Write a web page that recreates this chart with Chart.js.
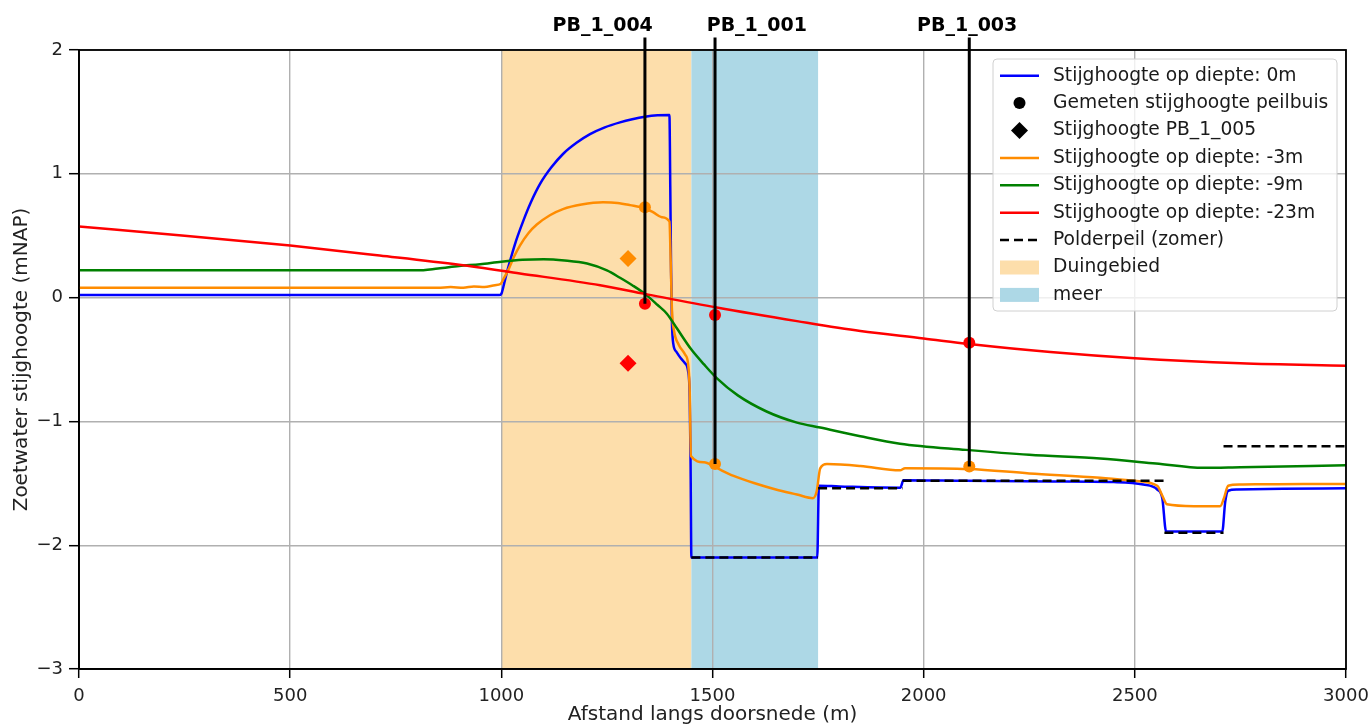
<!DOCTYPE html>
<html lang="nl">
<head>
<meta charset="utf-8">
<title>Stijghoogte langs doorsnede</title>
<script src="https://cdn.jsdelivr.net/npm/chart.js@4.4.1/dist/chart.umd.min.js"></script>
<style>
  html, body { margin: 0; padding: 0; background: #fff; }
</style>
</head>
<body>
<canvas id="doorsnede" width="1372" height="725"></canvas>
<script>
// Stijghoogte op diepte: 0m
const x0m = [0, 995, 1000, 1005, 1010, 1021, 1035, 1052, 1070, 1092, 1118, 1146, 1178, 1210, 1245, 1281, 1310, 1340, 1370, 1398,
             1400, 1402, 1404, 1407, 1415, 1425, 1435, 1442, 1446, 1448, 1450, 1600, 1748, 1752, 1800, 1945, 1952, 2100, 2300, 2450,
             2520, 2553, 2565, 2574, 2640, 2707, 2714, 2721, 2742, 2850, 3000];
const y0m = [0.02, 0.02, 0.03, 0.09, 0.16, 0.30, 0.46, 0.62, 0.77, 0.92, 1.05, 1.16, 1.25, 1.32, 1.375, 1.415, 1.44, 1.46, 1.472, 1.475,
             0.9, 0.2, -0.2, -0.37, -0.44, -0.49, -0.53, -0.59, -0.8, -1.3, -2.1, -2.1, -2.1, -1.52, -1.525, -1.535, -1.475, -1.48, -1.485, -1.49,
             -1.51, -1.55, -1.62, -1.89, -1.89, -1.89, -1.65, -1.56, -1.55, -1.545, -1.54];

// Stijghoogte op diepte: -3m
const x3m = [0, 850, 880, 910, 935, 960, 985, 998, 1005, 1016, 1030, 1044, 1064, 1084, 1115, 1146, 1190, 1241, 1275, 1305,
             1340, 1359, 1380, 1398, 1401, 1404, 1409, 1420, 1435, 1442, 1446, 1449, 1480, 1506, 1550, 1600, 1650, 1700, 1738, 1747,
             1755, 1771, 1850, 1944, 1956, 2107, 2250, 2418, 2500, 2553, 2565, 2576, 2640, 2702, 2711, 2721, 2749, 2900, 3000];
const y3m = [0.08, 0.08, 0.085, 0.08, 0.09, 0.085, 0.1, 0.11, 0.15, 0.22, 0.33, 0.42, 0.52, 0.59, 0.665, 0.715, 0.752, 0.77, 0.765, 0.747,
             0.72, 0.69, 0.65, 0.615, 0.3, -0.1, -0.27, -0.38, -0.46, -0.53, -0.75, -1.28, -1.33, -1.37, -1.44, -1.50, -1.55, -1.59, -1.62, -1.56,
             -1.38, -1.345, -1.36, -1.395, -1.378, -1.385, -1.42, -1.455, -1.48, -1.52, -1.6, -1.67, -1.685, -1.685, -1.62, -1.52, -1.51, -1.505, -1.505];

// Stijghoogte op diepte: -9m
const x9m = [0, 800, 850, 900, 950, 1000, 1050, 1100, 1150, 1203, 1250, 1281, 1310, 1340, 1370, 1392, 1416, 1450, 1480, 1510,
             1560, 1628, 1700, 1755, 1850, 1944, 2100, 2250, 2418, 2550, 2662, 2750, 3000];
const y9m = [0.22, 0.22, 0.235, 0.255, 0.27, 0.29, 0.305, 0.31, 0.30, 0.275, 0.22, 0.16, 0.10, 0.03, -0.06, -0.13, -0.25, -0.42, -0.54, -0.65,
             -0.79, -0.92, -1.01, -1.05, -1.12, -1.18, -1.23, -1.27, -1.30, -1.34, -1.375, -1.37, -1.355];

// Stijghoogte op diepte: -23m
const x23m = [0, 250, 500, 712, 900, 1044, 1234, 1340, 1510, 1700, 1850, 2000, 2108, 2300, 2500, 2750, 3000];
const y23m = [0.575, 0.50, 0.42, 0.34, 0.265, 0.195, 0.10, 0.03, -0.08, -0.19, -0.27, -0.33, -0.375, -0.44, -0.49, -0.53, -0.55];

// Polderpeil (zomer), null = onderbreking tussen peilvakken
const xPolder = [1450, 1750, 1750, 1750, 1950, 1950, 1950, 2570, 2570, 2570, 2710, 2710, 2710, 3000];
const yPolder = [-2.1, -2.1, null, -1.54, -1.54, null, -1.48, -1.48, null, -1.9, -1.9, null, -1.2, -1.2];

// Peilbuizen met gemeten stijghoogte
const buisNamen = ['PB_1_004', 'PB_1_001', 'PB_1_003'];
const buisX = [1340, 1506, 2108];
const gemeten3m = [0.73, -1.345, -1.365];
const gemeten23m = [-0.05, -0.14, -0.365];

// PB_1_005
const pb005X = [1300];
const pb005_3m = [0.315];
const pb005_23m = [-0.53];

// Gebieden
const duingebied = [1000, 1450];
const meer = [1450, 1750];

const xTicks = [0, 500, 1000, 1500, 2000, 2500, 3000];
const yTicks = [-3, -2, -1, 0, 1, 2];

const labelX = [1240, 1605, 2103];   // plaats van de buisnamen boven de grafiek
const buisTop = 2.1;

const blauw = '#0000ff', oranje = '#ff8c00', groen = '#008000', rood = '#ff0000';
const duinKleur = '#fddeab', meerKleur = '#add8e6';
const FONT = '"DejaVu Sans", sans-serif';

const punten = (xs, ys) => xs.map((x, i) => ({ x: x, y: ys[i] }));

// verticale lijnen van de peilbuizen
const buisLijnen = [];
buisX.forEach((x, i) => {
    buisLijnen.push({ x: x, y: buisTop });
    buisLijnen.push({ x: x, y: Math.min(gemeten3m[i], gemeten23m[i]) });
    buisLijnen.push({ x: x, y: null });
});

const lijn = (label, data, kleur) => ({
    label: label, data: data, borderColor: kleur, backgroundColor: kleur,
    borderWidth: 2.5, pointRadius: 0, cubicInterpolationMode: 'monotone', fill: false
});

const gebiedenPlugin = {
    id: 'gebieden',
    beforeDraw(chart) {
        const { ctx, chartArea: a, scales: { x } } = chart;
        ctx.save();
        [[duingebied, duinKleur], [meer, meerKleur]].forEach(([g, kleur]) => {
            const x1 = x.getPixelForValue(g[0]);
            const x2 = x.getPixelForValue(g[1]);
            ctx.fillStyle = kleur;
            ctx.fillRect(x1, a.top, x2 - x1, a.bottom - a.top);
        });
        ctx.restore();
    }
};

const legenda = [
    { tekst: 'Stijghoogte op diepte: 0m', soort: 'lijn', kleur: blauw },
    { tekst: 'Gemeten stijghoogte peilbuis', soort: 'cirkel', kleur: '#000' },
    { tekst: 'Stijghoogte PB_1_005', soort: 'ruit', kleur: '#000' },
    { tekst: 'Stijghoogte op diepte: -3m', soort: 'lijn', kleur: oranje },
    { tekst: 'Stijghoogte op diepte: -9m', soort: 'lijn', kleur: groen },
    { tekst: 'Stijghoogte op diepte: -23m', soort: 'lijn', kleur: rood },
    { tekst: 'Polderpeil (zomer)', soort: 'streep', kleur: '#000' },
    { tekst: 'Duingebied', soort: 'vlak', kleur: duinKleur },
    { tekst: 'meer', soort: 'vlak', kleur: meerKleur }
];

const extrasPlugin = {
    id: 'extras',
    afterDatasetsDraw(chart) {
        const { ctx, chartArea: a, scales: { x } } = chart;
        ctx.save();
        // kader rondom
        ctx.strokeStyle = '#000';
        ctx.lineWidth = 1.8;
        ctx.strokeRect(a.left, a.top, a.right - a.left, a.bottom - a.top);

        // namen van de peilbuizen
        ctx.fillStyle = '#000';
        ctx.font = 'bold 19px ' + FONT;
        ctx.textAlign = 'center';
        ctx.textBaseline = 'alphabetic';
        buisNamen.forEach((naam, i) => {
            ctx.fillText(naam, x.getPixelForValue(labelX[i]), a.top - 19);
        });

        // legenda
        const bx = a.right - 353, by = a.top + 9, bw = 344, bh = 252;
        ctx.beginPath();
        ctx.roundRect(bx, by, bw, bh, 4);
        ctx.fillStyle = 'rgba(255,255,255,0.8)';
        ctx.fill();
        ctx.strokeStyle = '#d0d0d0';
        ctx.lineWidth = 1;
        ctx.stroke();

        ctx.font = '18.7px ' + FONT;
        ctx.textAlign = 'left';
        ctx.textBaseline = 'middle';
        legenda.forEach((item, i) => {
            const cy = by + 16.7 + i * 27.4;
            const hx1 = bx + 7, hx2 = bx + 46, hm = (hx1 + hx2) / 2;
            ctx.fillStyle = item.kleur;
            ctx.strokeStyle = item.kleur;
            ctx.lineWidth = 2.5;
            ctx.setLineDash(item.soort === 'streep' ? [9, 5] : []);
            if (item.soort === 'lijn' || item.soort === 'streep') {
                ctx.beginPath();
                ctx.moveTo(hx1, cy);
                ctx.lineTo(hx2, cy);
                ctx.stroke();
            } else if (item.soort === 'cirkel') {
                ctx.beginPath();
                ctx.arc(hm, cy, 6, 0, Math.PI * 2);
                ctx.fill();
            } else if (item.soort === 'ruit') {
                ctx.beginPath();
                ctx.moveTo(hm - 8.5, cy);
                ctx.lineTo(hm, cy - 8.5);
                ctx.lineTo(hm + 8.5, cy);
                ctx.lineTo(hm, cy + 8.5);
                ctx.closePath();
                ctx.fill();
            } else {
                ctx.fillRect(hx1, cy - 7, hx2 - hx1, 14);
            }
            ctx.setLineDash([]);
            ctx.fillStyle = '#1a1a1a';
            ctx.fillText(item.tekst, bx + 60, cy);
        });
        ctx.restore();
    }
};

document.addEventListener('DOMContentLoaded', function () {
    const ctx = document.getElementById('doorsnede').getContext('2d');
    new Chart(ctx, {
        type: 'line',
        data: {
            datasets: [
                {
                    label: 'peilbuizen', data: buisLijnen, borderColor: '#000', borderWidth: 3,
                    pointRadius: 0, spanGaps: false, clip: false
                },
                {
                    label: 'Gemeten -3m', data: punten(buisX, gemeten3m), showLine: false,
                    pointStyle: 'circle', pointRadius: 6, pointBackgroundColor: oranje, pointBorderWidth: 0
                },
                {
                    label: 'Gemeten -23m', data: punten(buisX, gemeten23m), showLine: false,
                    pointStyle: 'circle', pointRadius: 6, pointBackgroundColor: rood, pointBorderWidth: 0
                },
                {
                    label: 'PB_1_005 -3m', data: punten(pb005X, pb005_3m), showLine: false,
                    pointStyle: 'rectRot', pointRadius: 8.5, pointBackgroundColor: oranje, pointBorderWidth: 0
                },
                {
                    label: 'PB_1_005 -23m', data: punten(pb005X, pb005_23m), showLine: false,
                    pointStyle: 'rectRot', pointRadius: 8.5, pointBackgroundColor: rood, pointBorderWidth: 0
                },
                Object.assign(lijn('Polderpeil (zomer)', punten(xPolder, yPolder), '#000'),
                    { borderDash: [9, 5], spanGaps: false, cubicInterpolationMode: 'default', tension: 0 }),
                lijn('Stijghoogte op diepte: -23m', punten(x23m, y23m), rood),
                lijn('Stijghoogte op diepte: -9m', punten(x9m, y9m), groen),
                lijn('Stijghoogte op diepte: -3m', punten(x3m, y3m), oranje),
                lijn('Stijghoogte op diepte: 0m', punten(x0m, y0m), blauw)
            ]
        },
        options: {
            responsive: false,
            animation: false,
            events: [],
            layout: { padding: { left: 0, right: 26, top: 50, bottom: 0 } },
            plugins: { legend: { display: false }, tooltip: { enabled: false } },
            scales: {
                x: {
                    type: 'linear', min: 0, max: 3000,
                    afterBuildTicks: s => { s.ticks = xTicks.map(v => ({ value: v })); },
                    afterFit: s => { s.height = 56; s.paddingLeft = 0; s.paddingRight = 0; },
                    grid: { color: '#b0b0b0', lineWidth: 1.4, tickColor: '#000', tickLength: 9, tickWidth: 1.5 },
                    border: { display: true, color: '#000', width: 1.8 },
                    ticks: {
                        font: { family: FONT, size: 18 }, color: '#222', padding: 8, maxRotation: 0,
                        callback: v => String(v)
                    },
                    title: {
                        display: true, text: 'Afstand langs doorsnede (m)',
                        font: { family: FONT, size: 20 }, color: '#222', padding: { top: 0, bottom: -2 }
                    }
                },
                y: {
                    type: 'linear', min: -3, max: 2,
                    afterBuildTicks: s => { s.ticks = yTicks.map(v => ({ value: v })); },
                    afterFit: s => { s.width = 79; s.paddingTop = 0; s.paddingBottom = 0; },
                    grid: { color: '#b0b0b0', lineWidth: 1.4, tickColor: '#000', tickLength: 10, tickWidth: 1.5 },
                    border: { display: true, color: '#000', width: 1.8 },
                    ticks: {
                        font: { family: FONT, size: 18 }, color: '#222', padding: 6,
                        callback: v => (v < 0 ? '\u2212' + Math.abs(v) : String(v))
                    },
                    title: {
                        display: true, text: 'Zoetwater stijghoogte (mNAP)',
                        font: { family: FONT, size: 20 }, color: '#222', padding: { top: 10, bottom: 0 }
                    }
                }
            }
        },
        plugins: [gebiedenPlugin, extrasPlugin]
    });
});
</script>
</body>
</html>
